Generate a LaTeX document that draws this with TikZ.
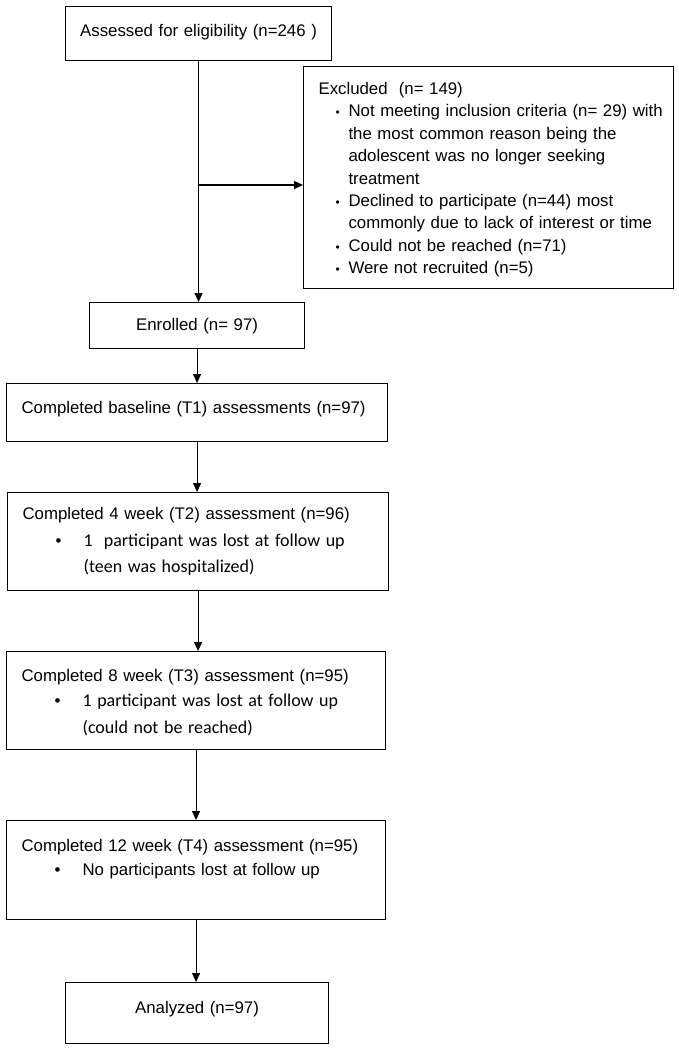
\documentclass[tikz,border=0pt]{standalone}
\usepackage{fontspec}
\setmainfont{Liberation Sans}
\newfontfamily\calibri{Carlito}
\usetikzlibrary{arrows.meta}
\tikzset{>={Triangle[length=9pt,width=8pt]}}
\tikzset{
    flowbox/.style={draw, anchor=north west, inner ysep=0pt,
        font=\fontsize{16.8}{22.4}\selectfont},
    leftbox/.style={flowbox, inner xsep=15pt, align=left},
    midbox/.style={flowbox, inner xsep=0pt, align=center}
}
\newcommand\smallbul{\hspace*{17pt}\makebox[13pt][l]{\fontsize{12}{12}\selectfont\textbullet}}
\newcommand\bigbul{\hspace*{33pt}\makebox[28pt][l]{\textbullet}}
\newcommand\calfont{\calibri\fontsize{18}{22}\selectfont}

\begin{document}
\begin{tikzpicture}[x=1pt,y=-1pt,line width=1.1pt]
    \useasboundingbox (0,0) rectangle (679,1050);

    \node[midbox, text width=266pt, text height=30pt, text depth=24pt] (assessed) at (65,6)
        {Assessed for eligibility (n=246 )};

    \node[leftbox, text width=340pt, text height=28pt, text depth=194pt] (excluded) at (303,66)
        {Excluded\ \ (n= 149)\\
         \mbox{\smallbul Not meeting inclusion criteria (n= 29) with}\\
         \hspace*{30pt}the most common reason being the\\
         \hspace*{30pt}adolescent was no longer seeking\\
         \hspace*{30pt}treatment\\
         \mbox{\smallbul Declined to participate (n=44) most}\\
         \mbox{\hspace*{30pt}commonly due to lack of interest or time}\\
         \smallbul Could not be reached (n=71)\\
         \smallbul Were not recruited (n=5)};

    \node[midbox, text width=215pt, text height=28pt, text depth=18pt] (enrolled) at (89,302)
        {Enrolled (n= 97)};

    \node[leftbox, text width=351pt, text height=30pt, text depth=28pt] (baseline) at (6,383)
        {Completed baseline (T1) assessments (n=97)};

    \node[leftbox, text width=351pt, text height=27pt, text depth=71pt] (t2) at (7,492)
        {Completed 4 week (T2) assessment (n=96)\\[4.6pt]
         \bigbul{\calfont 1\ \ participant was lost at follow up}\\[3.6pt]
         \hspace*{61pt}{\calfont (teen was hospitalized)}};

    \node[leftbox, text width=349pt, text height=30pt, text depth=68pt] (t3) at (6,651)
        {Completed 8 week (T3) assessment (n=95)\\[2.6pt]
         \bigbul{\calfont 1 participant was lost at follow up}\\[4.6pt]
         \hspace*{61pt}{\calfont (could not be reached)}};

    \node[leftbox, text width=349pt, text height=31pt, text depth=68pt] (t4) at (6,820)
        {Completed 12 week (T4) assessment (n=95)\\[1.6pt]
         \bigbul No participants lost at follow up};

    \node[midbox, text width=263pt, text height=31pt, text depth=30pt] (analyzed) at (65,982)
        {Analyzed (n=97)};

    \coordinate (split) at (198,185);
    \draw[->] (assessed.south) -- (assessed.south |- enrolled.north);
    \draw[->] (split) -- (split -| excluded.west);
    \draw[->] (enrolled.south) -- (enrolled.south |- baseline.north);
    \draw[->] (baseline.south) -- (baseline.south |- t2.north);
    \draw[->] (t2.south) -- (t2.south |- t3.north);
    \draw[->] (t3.south) -- (t3.south |- t4.north);
    \draw[->] (t4.south) -- (t4.south |- analyzed.north);
\end{tikzpicture}
\end{document}
